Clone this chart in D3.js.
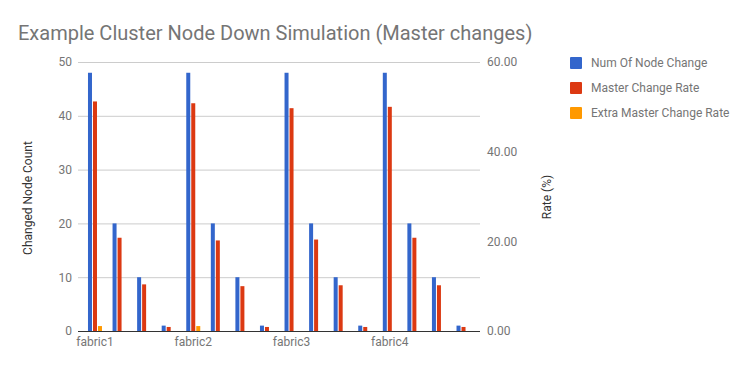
<!DOCTYPE html>
<html><head><meta charset="utf-8">
<script src="https://cdn.jsdelivr.net/npm/d3@7"></script>
<style>body{margin:0;background:#fff;}svg{display:block;font-family:Roboto,Arial,sans-serif;}</style>
</head><body><svg id="c" width="749" height="371"></svg>
<script>
const categories = ["fabric1","fabric1-b","fabric1-c","fabric1-d","fabric2","fabric2-b","fabric2-c","fabric2-d","fabric3","fabric3-b","fabric3-c","fabric3-d","fabric4","fabric4-b","fabric4-c","fabric4-d"];
const tickLabels = ["fabric1","","","","fabric2","","","","fabric3","","","","fabric4","","",""];
const numNodeChange = [48,20,10,1, 48,20,10,1, 48,20,10,1, 48,20,10,1];
const masterChangeRate = [51.2,20.8,10.4,0.9, 50.8,20.2,10.0,0.9, 49.7,20.4,10.2,0.9, 50.0,20.8,10.2,0.9];
const extraMasterChangeRate = [1.1,0,0,0, 1.1,0,0,0, 0,0,0,0, 0,0,0,0];
const leftTicks = [0,10,20,30,40,50];
const rightTicks = [0,20,40,60];
const seriesNames = ["Num Of Node Change","Master Change Rate","Extra Master Change Rate"];
const colors = ["#3366cc","#dc3912","#ff9900"];

const svg = d3.select("#c");
const L = 78, R = 480, T = 62, B = 331;
const x = d3.scaleBand().domain(categories).range([82.7, 475.8]);
const yL = d3.scaleLinear().domain([0,50]).range([B,T]);
const yR = d3.scaleLinear().domain([0,60]).range([B,T]);
const barW = 4, gap = 1;
const FS = 12;

// title
svg.append("text").attr("x",18).attr("y",40).attr("fill","#757575")
  .attr("font-size",20).text("Example Cluster Node Down Simulation (Master changes)");

// gridlines
svg.append("g").selectAll("line").data(leftTicks.filter(d=>d>0)).join("line")
  .attr("x1",L).attr("x2",R).attr("y1",d=>yL(d)+0.5).attr("y2",d=>yL(d)+0.5)
  .attr("stroke","#cccccc").attr("stroke-width",1);

// left axis labels
const gl = svg.append("g").attr("transform",`translate(${L},0)`)
  .call(d3.axisLeft(yL).tickValues(leftTicks).tickSize(0).tickPadding(6).tickFormat(d3.format("d")));
gl.select(".domain").remove();
gl.selectAll("text").attr("fill","#757575").attr("font-size",FS).attr("font-family","Roboto,Arial,sans-serif");

// right axis labels
const gr = svg.append("g").attr("transform",`translate(${R},0)`)
  .call(d3.axisRight(yR).tickValues(rightTicks).tickSize(0).tickPadding(7).tickFormat(d3.format(".2f")));
gr.select(".domain").remove();
gr.selectAll("text").attr("fill","#757575").attr("font-size",FS).attr("font-family","Roboto,Arial,sans-serif");

// x axis labels
const gx = svg.append("g").attr("transform",`translate(0,${B})`)
  .call(d3.axisBottom(x).tickSize(0).tickPadding(6).tickFormat((d,i)=>tickLabels[i]));
gx.select(".domain").remove();
gx.selectAll("text").attr("fill","#757575").attr("font-size",FS).attr("font-family","Roboto,Arial,sans-serif")
  .attr("dy","0.71em");

// bars
const groupW = barW*3 + gap*2;
const off = (x.bandwidth()-groupW)/2;
const series = [
  {vals:numNodeChange, scale:yL},
  {vals:masterChangeRate, scale:yR},
  {vals:extraMasterChangeRate, scale:yR}
];
series.forEach((s,si)=>{
  svg.append("g").selectAll("rect").data(categories.map((c,i)=>({c,v:s.vals[i]})).filter(d=>d.v>0)).join("rect")
    .attr("x",d=>x(d.c)+off+si*(barW+gap))
    .attr("width",barW)
    .attr("y",d=>s.scale(d.v))
    .attr("height",d=>B-s.scale(d.v))
    .attr("fill",colors[si]);
});

// baseline
svg.append("line").attr("x1",L).attr("x2",R).attr("y1",B+0.5).attr("y2",B+0.5)
  .attr("stroke","#333333").attr("stroke-width",1);

// axis titles
svg.append("text").attr("transform",`translate(32,198) rotate(-90)`).attr("text-anchor","middle")
  .attr("font-size",FS).attr("fill","#333333").text("Changed Node Count");
svg.append("text").attr("transform",`translate(551,197) rotate(-90)`).attr("text-anchor","middle")
  .attr("font-size",FS).attr("fill","#333333").text("Rate (%)");

// legend
const lg = svg.append("g").selectAll("g").data(seriesNames).join("g")
  .attr("transform",(d,i)=>`translate(570,${57+i*25})`);
lg.append("rect").attr("width",12).attr("height",12).attr("rx",1).attr("fill",(d,i)=>colors[i]);
lg.append("text").attr("x",21).attr("y",6).attr("dy","0.35em").attr("font-size",FS)
  .attr("fill","#757575").text(d=>d);
</script></body></html>
